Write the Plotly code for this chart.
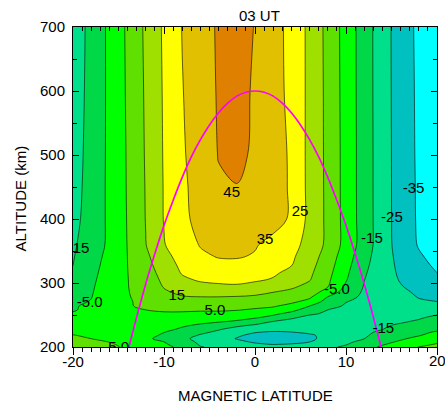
import plotly.graph_objects as go

# Grid of the field (magnetic latitude x altitude)
LAT = [-20, -18, -16, -14, -12, -10, -8, -6, -4, -2, 0, 2, 4, 6, 8, 10, 12, 14, 16, 18, 20]
ALT = [200, 204, 208, 213, 218, 223, 228, 234, 240, 246, 252, 258, 264, 271, 278, 286, 295,
       305, 316, 328, 342, 360, 400, 450, 500, 600, 700]
Z = [
    [10.0, 8.1, 6.3, 4.0, 0.7, -2.7, -7.2, -14.6, -16.6, -18.3, -20.0, -21.7, -20.4, -18.5, -16.5, -13.7, -8.6, -3.6, 0.9, 5.2, 7.0],
    [9.2, 7.2, 5.5, 4.0, -0.6, -3.8, -9.0, -15.9, -18.1, -20.7, -23.7, -25.1, -24.4, -21.8, -18.2, -15.4, -10.7, -5.7, -1.5, 2.9, 5.7],
    [8.4, 6.2, 4.9, 4.1, -1.9, -5.0, -10.8, -16.9, -19.7, -23.1, -26.0, -27.4, -26.8, -25.1, -20.0, -16.5, -12.9, -7.4, -3.8, 0.5, 3.9],
    [7.0, 5.0, 4.6, 4.1, -3.5, -7.5, -13.0, -17.6, -21.6, -25.4, -28.1, -30.4, -29.5, -26.7, -22.2, -17.8, -15.1, -9.5, -6.2, -2.6, 1.1],
    [5.3, 4, 4, 4, -3, -6, -11, -16, -20, -24, -27, -29, -28, -26, -23, -19, -16, -12, -8, -5.4, -2],
    [4, 3, 4, 4, -2, -4.9, -8, -13, -17, -21, -24.7, -26, -25.2, -24, -22, -20, -16, -14, -10, -7, -4],
    [2, 3, 4, 4, -1, -3, -6, -10, -14, -18, -21, -22, -23, -23, -21, -21, -17, -15.2, -12, -9, -7],
    [0, 2, 4, 4, 0, -2, -4, -6, -9, -13, -16, -19, -20, -21, -20, -20, -18, -16, -14, -11, -9],
    [-1, 1, 3, 4, 2, 0, -1, -3, -4, -6, -10, -15, -17, -19, -19, -19, -18, -17, -16, -14, -11],
    [-3, 0, 3, 4, 3, 2, 1, 0, -1, -2, -4, -8, -14, -17, -17, -18, -19, -18, -17, -16, -13],
    [-4, -1, 3, 4, 4, 4, 4, 3, 3, 2, 0, -3, -8, -14, -16, -17, -19, -18, -18, -18, -16],
    [-6, -2, 2, 4, 5, 6, 6, 6, 6, 5.4, 4, 2, -2, -10, -15, -17, -18, -19, -19, -20, -19],
    [-6, -3, 2, 4.5, 6, 7, 9, 9, 9, 8, 7, 6, 2, -5, -12, -16, -18, -20, -20, -22, -22],
    [-7, -4.6, 2, 4.6, 6, 9, 11, 12, 12, 11, 10, 9, 7, 2, -9, -14.7, -17, -21, -21, -24, -25],
    [-8.3, -5.3, 1.1, 4.6, 6.9, 11.5, 14.3, 14.8, 14.8, 14.4, 13.6, 11.8, 9.8, 6.5, -5.5, -12.3, -16.7, -21.7, -21.9, -25.4, -26.5],
    [-9.6, -5.8, 0.7, 4.7, 7.7, 13.8, 17.1, 18.5, 18.9, 18.9, 17.7, 15.2, 13.3, 9.5, 1.4, -9.5, -16.2, -21.9, -23.2, -26.5, -28.2],
    [-11.2, -6.3, 0.2, 4.8, 8.5, 15.7, 20.1, 22.7, 23.6, 24.1, 22.4, 19.5, 16.5, 12.8, 5.6, -6.5, -15.5, -21.7, -24.6, -27.7, -30.0],
    [-12.6, -6.9, -0.3, 4.8, 9.5, 17.0, 23.4, 26.0, 27.0, 27.1, 26.1, 24.3, 19.4, 15.5, 6.7, -4.4, -14.8, -21.6, -25.5, -29.0, -32.3],
    [-13.8, -7.6, -0.9, 4.9, 10.6, 18.5, 25.7, 28.3, 29.9, 30.0, 28.6, 26.3, 22.7, 16.8, 7.9, -3.2, -13.8, -21.4, -26.2, -30.5, -35.0],
    [-15.1, -8.3, -1.6, 5.0, 11.7, 20.2, 27.1, 30.8, 33.2, 33.1, 31.3, 28.0, 25.3, 18.2, 9.2, -1.9, -12.6, -21.2, -26.9, -32.1, -36.7],
    [-15.6, -9.2, -2.3, 5.1, 13.0, 22.1, 28.8, 33.7, 35.5, 35.7, 34.4, 29.9, 26.5, 19.9, 10.7, -0.4, -11.3, -20.9, -27.8, -34.0, -37.8],
    [-16.3, -10.2, -3.3, 5.3, 14.8, 24.5, 30.9, 35.5, 36.9, 37.5, 35.7, 32.4, 27.9, 22.0, 12.7, 1.6, -9.7, -20.6, -29.0, -35.7, -39.0],
    [-18.0, -10.7, -3.3, 5.5, 15.3, 25.4, 33.1, 37.5, 40.8, 41.8, 40.5, 38.5, 33.8, 22.3, 12.9, 1.5, -9.7, -20.5, -29.4, -36.2, -40.0],
    [-19.0, -11.0, -3.2, 5.7, 15.5, 25.5, 33.4, 38.4, 44.0, 44.8, 42.3, 40.5, 33.4, 22.4, 12.8, 1.4, -9.8, -20.5, -29.5, -36.3, -40.5],
    [-19.5, -11.4, -3.2, 5.8, 15.8, 25.7, 33.8, 39.9, 45.3, 46.6, 43.9, 41.0, 33.1, 22.4, 12.7, 1.4, -9.8, -20.5, -29.6, -36.5, -41.0],
    [-20.5, -11.7, -3.2, 6.2, 16.2, 26.0, 34.6, 40.5, 45.8, 47.7, 44.0, 38.8, 32.5, 22.6, 12.5, 1.2, -9.9, -20.6, -29.7, -36.7, -41.5],
    [-21.0, -12.0, -3.1, 6.5, 16.7, 26.4, 35.3, 41.0, 46.1, 48.2, 44.7, 38.9, 32.0, 22.7, 12.2, 1.1, -10.0, -20.6, -29.9, -37.0, -42.0],
]

LEVEL_START, LEVEL_END, LEVEL_STEP = -35, 45, 10
BAND_COLORS = ['#00FFFF', '#00C0C0', '#00E08A', '#00D848', '#00FF00',
               '#60E000', '#A0E000', '#FFFF00', '#E0C000', '#E08000']

# magnetic field line (apex 600 km)
FL_LAT = [-13.86, -13, -12, -11, -10, -9, -8, -7, -6, -5, -4, -3, -2, -1, 0,
          1, 2, 3, 4, 5, 6, 7, 8, 9, 10, 11, 12, 13, 13.86]
FL_ALT = [200, 247, 299, 346, 390, 429, 465, 497, 524, 547, 566, 581, 592, 598, 600,
          598, 592, 581, 566, 547, 524, 497, 465, 429, 390, 346, 299, 247, 200]

# contour labels
LBL_TXT = ["45", "25", "35", "15", "5.0", "-5.0", "-15", "-25", "-35", "-15", "-15", "-5.0", "5.0"]
LBL_X = [-2.56, 4.96, 1.10, -8.60, -4.40, 9.00, 12.85, 15.05, 17.43, 14.10, -19.39, -18.16, -14.97]
LBL_Y = [440.6, 411.0, 366.5, 279.0, 255.6, 288.0, 369.0, 401.6, 445.8, 227.0, 352.0, 267.6, 198.0]

XT = [-20, -10, 0, 10, 20]
XT_TXT = ['-20', '-10', '0', '10', '']   # last label drawn as annotation (it runs past the page edge)

n = len(BAND_COLORS)
cs = []
for k, col in enumerate(BAND_COLORS):
    lo = 0 if k == 0 else (k - 0.5) / (n - 1)
    hi = 1 if k == n - 1 else (k + 0.5) / (n - 1)
    cs += [[lo, col], [hi, col]]

fig = go.Figure()
fig.add_trace(go.Contour(
    x=LAT, y=ALT, z=Z, colorscale=cs, showscale=False,
    contours=dict(start=LEVEL_START, end=LEVEL_END, size=LEVEL_STEP, coloring='fill', showlines=True),
    line=dict(color='black', width=0.6, smoothing=1), hoverinfo='skip'))
fig.add_trace(go.Scatter(x=FL_LAT, y=FL_ALT, mode='lines',
                         line=dict(color='#FF00FF', width=1.7, shape='spline'), hoverinfo='skip'))
fig.add_trace(go.Scatter(x=LBL_X, y=LBL_Y, mode='text', text=LBL_TXT,
                         textfont=dict(size=15, color='black'), cliponaxis=True, hoverinfo='skip'))
fig.add_trace(go.Scatter(x=[0], y=[450], xaxis='x2', mode='markers',
                         marker=dict(opacity=0), hoverinfo='skip'))

fig.update_layout(
    width=445, height=404, margin=dict(l=73, r=8, t=27, b=57, autoexpand=False),
    paper_bgcolor='white', plot_bgcolor='white', showlegend=False,
    font=dict(family='Arial, Liberation Sans, sans-serif', size=15, color='black'),
    xaxis=dict(range=[-20, 20], tickmode='array', tickvals=XT, ticktext=XT_TXT,
               ticks='outside', ticklen=7, tickwidth=1, tickcolor='black', ticklabelstandoff=-6,
               minor=dict(tickmode='linear', tick0=0, dtick=1, ticks='outside', ticklen=4,
                          tickcolor='black', tickwidth=1),
               showline=True, linecolor='black', linewidth=1, showgrid=False, zeroline=False),
    xaxis2=dict(overlaying='x', side='top', range=[-20, 20], tickmode='array', tickvals=XT,
                ticks='inside', ticklen=7, tickcolor='black', showticklabels=False,
                minor=dict(tickmode='linear', tick0=0, dtick=1, ticks='inside', ticklen=3.5,
                           tickcolor='black'),
                showline=True, linecolor='black', linewidth=1, showgrid=False, zeroline=False),
    yaxis=dict(range=[200, 700], tickmode='linear', tick0=200, dtick=100, ticks='inside',
               ticklen=6, tickcolor='black',
               minor=dict(tickmode='linear', tick0=0, dtick=50, ticks='inside', ticklen=4,
                          tickcolor='black'),
               showline=True, mirror='ticks', linecolor='black', linewidth=1,
               showgrid=False, zeroline=False, ticklabelstandoff=4),
    annotations=[
        dict(text='20', xref='x', yref='paper', x=20, y=-0.042, xanchor='center', yanchor='middle',
             showarrow=False, font=dict(size=15)),
        dict(text='03 UT', xref='x', yref='paper', x=0.5, y=1.036, xanchor='center', yanchor='middle',
             showarrow=False, font=dict(size=15)),
        dict(text='MAGNETIC LATITUDE', xref='paper', yref='paper', x=0.5, y=-0.152,
             xanchor='center', yanchor='middle', showarrow=False, font=dict(size=15)),
        dict(text='ALTITUDE (km)', xref='paper', yref='paper', x=-0.144, y=0.463,
             xanchor='center', yanchor='middle', showarrow=False, textangle=-90, font=dict(size=15)),
    ],
)
fig.write_html("out.html")
